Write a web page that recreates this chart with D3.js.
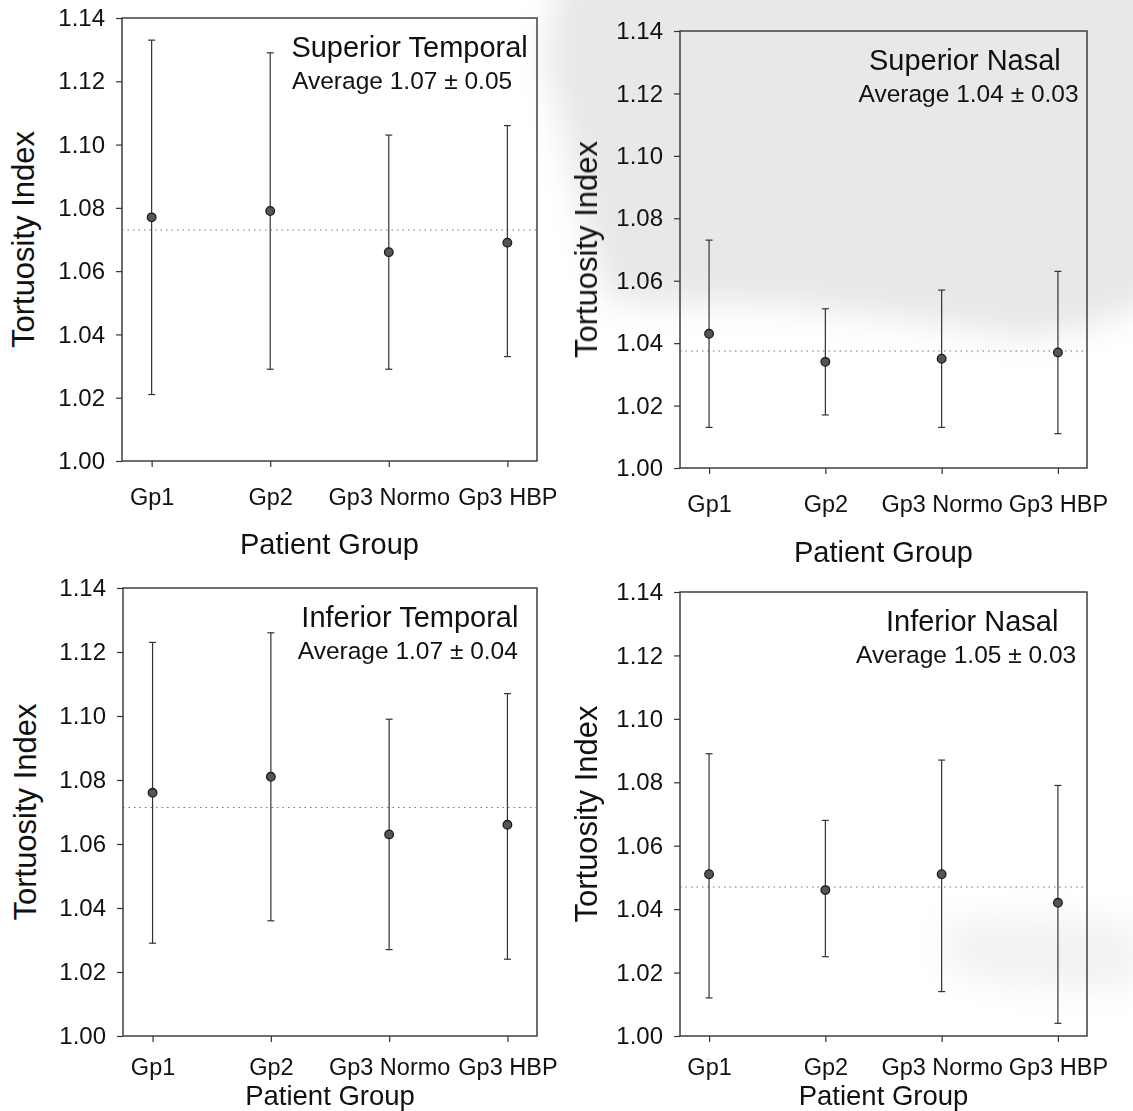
<!DOCTYPE html>
<html>
<head>
<meta charset="utf-8">
<script src="https://cdn.jsdelivr.net/npm/d3@7"></script>
<style>
  html, body { margin: 0; padding: 0; background: #fff; }
  svg { display: block; }
  text { font-family: "Liberation Sans", Arial, sans-serif; fill: #111; }
</style>
</head>
<body>
<svg id="chart" width="1133" height="1111"></svg>
<script>
// ---------- data ----------
const categories = ["Gp1", "Gp2", "Gp3 Normo", "Gp3 HBP"];
const yTicks = [1.00, 1.02, 1.04, 1.06, 1.08, 1.10, 1.12, 1.14];
const yTitle = "Tortuosity Index";
const xTitle = "Patient Group";

const panelTitles = ["Superior Temporal", "Superior Nasal", "Inferior Temporal", "Inferior Nasal"];
const averageLabels = ["Average 1.07 \u00b1 0.05", "Average 1.04 \u00b1 0.03", "Average 1.07 \u00b1 0.04", "Average 1.05 \u00b1 0.03"];

const supTempMean  = [1.077, 1.079, 1.066, 1.069];
const supTempUpper = [1.133, 1.129, 1.103, 1.106];
const supTempLower = [1.021, 1.029, 1.029, 1.033];
const supTempAvg   = 1.073;

const supNasMean  = [1.043, 1.034, 1.035, 1.037];
const supNasUpper = [1.073, 1.051, 1.057, 1.063];
const supNasLower = [1.013, 1.017, 1.013, 1.011];
const supNasAvg   = 1.0375;

const infTempMean  = [1.076, 1.081, 1.063, 1.066];
const infTempUpper = [1.123, 1.126, 1.099, 1.107];
const infTempLower = [1.029, 1.036, 1.027, 1.024];
const infTempAvg   = 1.0714;

const infNasMean  = [1.051, 1.046, 1.051, 1.042];
const infNasUpper = [1.089, 1.068, 1.087, 1.079];
const infNasLower = [1.012, 1.025, 1.014, 1.004];
const infNasAvg   = 1.047;

const seriesMean  = [supTempMean, supNasMean, infTempMean, infNasMean];
const seriesUpper = [supTempUpper, supNasUpper, infTempUpper, infNasUpper];
const seriesLower = [supTempLower, supNasLower, infTempLower, infNasLower];
const seriesAvg   = [supTempAvg, supNasAvg, infTempAvg, infNasAvg];

// ---------- layout (pixels) ----------
const layout = [
  { left: 122, right: 537,  top: 18,  bottom: 461,  tickPad: 21, xTitleY: 554,  yTitleDx: 88, titleCx: 0.693, avgCx: 0.675 },
  { left: 680, right: 1087, top: 31,  bottom: 468,  tickPad: 21, xTitleY: 562,  yTitleDx: 83, titleCx: 0.700, avgCx: 0.709 },
  { left: 123, right: 537,  top: 588, bottom: 1036, tickPad: 16, xTitleY: 1105, yTitleDx: 87, titleCx: 0.693, avgCx: 0.688 },
  { left: 680, right: 1087, top: 592, bottom: 1036, tickPad: 16, xTitleY: 1105, yTitleDx: 83, titleCx: 0.718, avgCx: 0.703 }
];

const svg = d3.select("#chart");

// faint scanned half-tone background (decorative, top-right of the page)
const defs = svg.append("defs");
defs.append("filter").attr("id", "soft").attr("x", "-20%").attr("y", "-20%").attr("width", "140%").attr("height", "140%")
  .append("feGaussianBlur").attr("stdDeviation", 16);
const tone = svg.append("g").attr("filter", "url(#soft)").attr("pointer-events", "none");
tone.append("path")
  .attr("d", "M560,-30 L1160,-30 L1160,300 C1100,320 1060,345 1000,335 C920,320 860,315 780,305 C700,300 650,310 610,300 C585,250 570,150 545,60 Z")
  .attr("fill", "#000").attr("opacity", 0.09);
tone.append("path")
  .attr("d", "M940,925 C1000,915 1080,915 1140,925 L1140,985 C1080,995 1000,990 950,970 Z")
  .attr("fill", "#000").attr("opacity", 0.05);

layout.forEach((L, i) => {
  const w = L.right - L.left, h = L.bottom - L.top;
  const g = svg.append("g").attr("transform", `translate(${L.left},${L.top})`);

  const x = d3.scalePoint().domain(categories).range([0, w]).padding(0.25);
  const y = d3.scaleLinear().domain([1.00, 1.14]).range([h, 0]);

  // frame
  g.append("rect").attr("x", 0).attr("y", 0).attr("width", w).attr("height", h)
    .attr("fill", "none").attr("stroke", "#333").attr("stroke-width", 1.4);

  // y axis
  const ya = g.append("g")
    .call(d3.axisLeft(y).tickValues(yTicks).tickFormat(d3.format(".2f"))
      .tickSize(6).tickSizeOuter(0).tickPadding(11));
  ya.select(".domain").remove();
  ya.selectAll("line").attr("stroke", "#333").attr("stroke-width", 1.2);
  ya.selectAll("text").attr("font-size", 24).attr("fill", "#111")
    .style("font-family", '"Liberation Sans", Arial, sans-serif');

  // x axis
  const xa = g.append("g").attr("transform", `translate(0,${h})`)
    .call(d3.axisBottom(x).tickSize(6).tickSizeOuter(0).tickPadding(L.tickPad));
  xa.select(".domain").remove();
  xa.selectAll("line").attr("stroke", "#333").attr("stroke-width", 1.2);
  xa.selectAll("text").attr("font-size", 23.5).attr("fill", "#111")
    .style("font-family", '"Liberation Sans", Arial, sans-serif');

  // average reference line
  g.append("line")
    .attr("x1", 0).attr("x2", w)
    .attr("y1", y(seriesAvg[i])).attr("y2", y(seriesAvg[i]))
    .attr("stroke", "#555").attr("stroke-width", 1.1)
    .attr("stroke-dasharray", "1.5,4").attr("opacity", 0.8);

  const rows = categories.map((c, k) => ({
    c, mean: seriesMean[i][k], hi: seriesUpper[i][k], lo: seriesLower[i][k]
  }));

  // error bars
  const eb = g.append("g").selectAll("g").data(rows).join("g");
  eb.append("line")
    .attr("x1", d => x(d.c)).attr("x2", d => x(d.c))
    .attr("y1", d => y(d.hi)).attr("y2", d => y(d.lo))
    .attr("stroke", "#333").attr("stroke-width", 1.2);
  eb.append("line")
    .attr("x1", d => x(d.c) - 3.5).attr("x2", d => x(d.c) + 3.5)
    .attr("y1", d => y(d.hi)).attr("y2", d => y(d.hi))
    .attr("stroke", "#333").attr("stroke-width", 1.2);
  eb.append("line")
    .attr("x1", d => x(d.c) - 3.5).attr("x2", d => x(d.c) + 3.5)
    .attr("y1", d => y(d.lo)).attr("y2", d => y(d.lo))
    .attr("stroke", "#333").attr("stroke-width", 1.2);
  eb.append("circle")
    .attr("cx", d => x(d.c)).attr("cy", d => y(d.mean)).attr("r", 4.3)
    .attr("fill", "#555").attr("stroke", "#1a1a1a").attr("stroke-width", 1.3);

  // panel title + average
  g.append("text").attr("x", w * L.titleCx).attr("y", 39).attr("text-anchor", "middle")
    .attr("font-size", 29).text(panelTitles[i]);
  g.append("text").attr("x", w * L.avgCx).attr("y", 71).attr("text-anchor", "middle")
    .attr("font-size", 24.5).text(averageLabels[i]);

  // axis titles
  g.append("text").attr("x", w / 2).attr("y", L.xTitleY - L.top)
    .attr("text-anchor", "middle").attr("font-size", i < 2 ? 29 : 27.5).text(xTitle);
  g.append("text")
    .attr("transform", `translate(${-L.yTitleDx},${h / 2}) rotate(-90)`)
    .attr("text-anchor", "middle").attr("font-size", 31).text(yTitle);
});
</script>
</body>
</html>
